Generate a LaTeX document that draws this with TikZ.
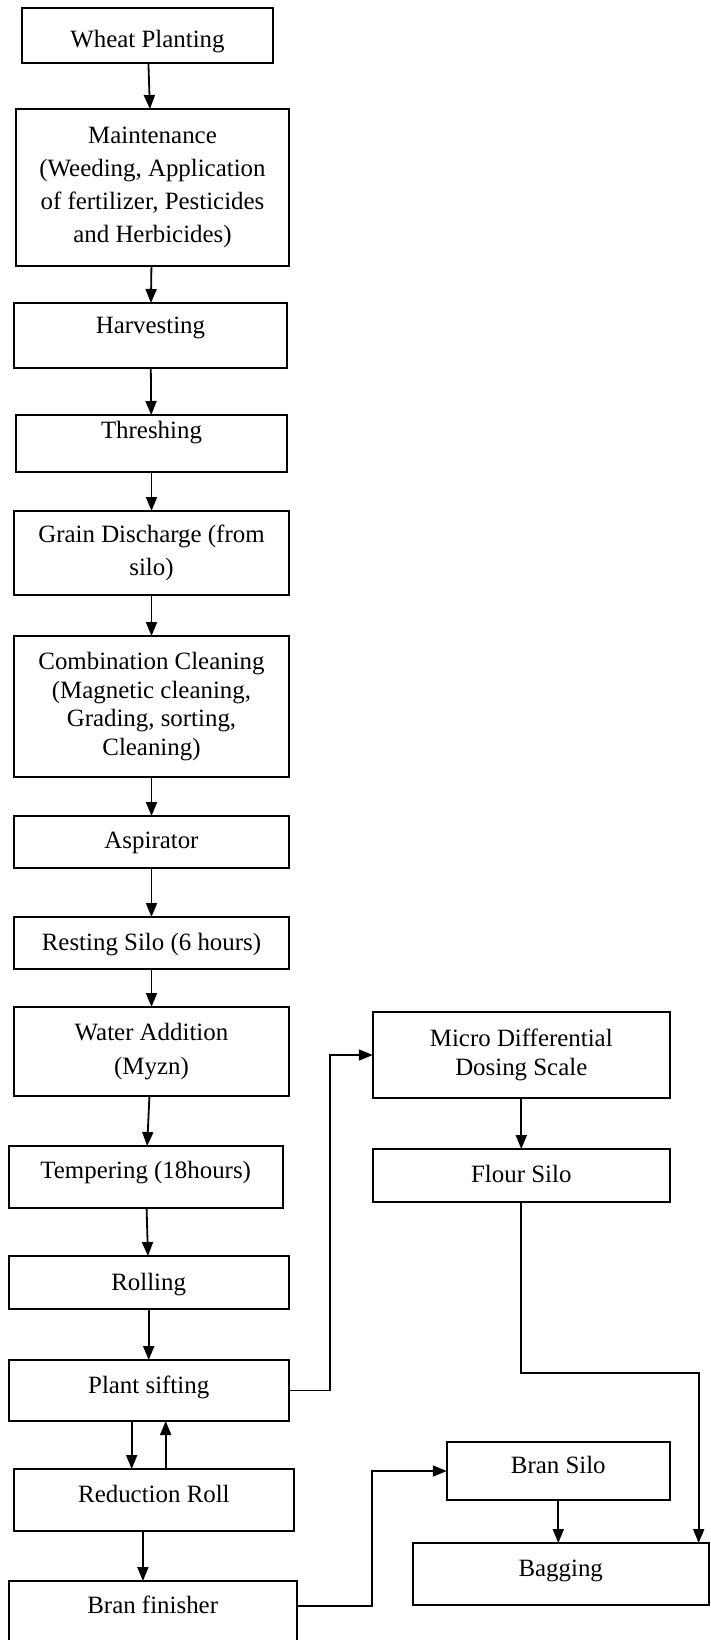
\documentclass[tikz,border=0pt]{standalone}
\usepackage{fontspec}
\setmainfont{Liberation Serif}
\usepackage{tikz}
\usetikzlibrary{positioning, arrows.meta}
\tikzset{
    box/.style={draw, rectangle, line width=1pt, align=center, inner sep=0pt, outer sep=0pt,
      minimum width=137.5pt, font=\fontsize{12.45}{16.5}\selectfont},
    oneline/.style 2 args={text height=#1, text depth=#2},
    flow/.style={-{Triangle[width=5.5pt, length=7pt]}, line width=0.9pt},
}
\begin{document}
\begin{tikzpicture}[x=0.5pt, y=-0.5pt]
    \path[use as bounding box, clip] (0,0) rectangle (711,1640);

    % main column
    \node[box, minimum width=125.5pt, oneline={19.5pt}{8pt}, anchor=north] (wheat) at (147.5,8) {Wheat Planting};
    \node[box, minimum width=136.5pt, minimum height=78.5pt, below=23pt of wheat, xshift=2.5pt] (maint)
      {Maintenance\\(Weeding, Application\\of fertilizer, Pesticides\\and Herbicides)};
    \node[box, minimum width=136.5pt, oneline={15pt}{17.5pt}, below=18.5pt of maint, xshift=-1pt] (harv) {Harvesting};
    \node[box, minimum width=135.5pt, oneline={11.5pt}{17pt}, below=23.5pt of harv, xshift=0.5pt] (thresh) {Threshing};
    \node[box, minimum height=42pt, below=19.5pt of thresh] (grain) {Grain Discharge (from\\silo)};
    \node[box, minimum height=70.5pt, font=\fontsize{12.45}{14.3}\selectfont, below=20.5pt of grain] (clean)
      {Combination Cleaning\\(Magnetic cleaning,\\Grading, sorting,\\Cleaning)};
    \node[box, oneline={16pt}{10pt}, below=19.5pt of clean] (asp) {Aspirator};
    \node[box, oneline={16.5pt}{9.5pt}, below=24.5pt of asp] (rest) {Resting Silo (6 hours)};
    \node[box, minimum height=44.5pt, font=\fontsize{12.45}{17}\selectfont, below=19pt of rest] (water) {Water Addition\\(Myzn)};
    \node[box, minimum width=137pt, oneline={16pt}{15pt}, below=25pt of water, xshift=-2.9pt] (temper) {Tempering (18hours)};
    \node[box, minimum width=140pt, oneline={17pt}{9.5pt}, below=24pt of temper, xshift=1.5pt] (roll) {Rolling};
    \node[box, minimum width=140pt, oneline={16.5pt}{14pt}, below=25.5pt of roll] (sift) {Plant sifting};
    \node[box, minimum width=139.75pt, oneline={16.5pt}{14.5pt}, below=24pt of sift, xshift=2.6pt] (reduce) {Reduction Roll};
    \node[box, minimum width=144pt, oneline={16pt}{24pt}, below=25pt of reduce, xshift=-0.6pt] (finish) {Bran finisher};

    % right column
    \node[box, minimum width=148.5pt, minimum height=43pt, font=\fontsize{12.45}{14.2}\selectfont,
      right=41.9pt of water, yshift=-1.75pt] (dosing) {Micro Differential\\Dosing Scale};
    \node[box, minimum width=148.5pt, oneline={16.5pt}{10pt}, below=25.5pt of dosing] (flour) {Flour Silo};
    \node[box, minimum width=111.5pt, oneline={15.5pt}{13.5pt}, below=120pt of flour, xshift=18.5pt] (bran) {Bran Silo};
    \node[box, minimum width=148pt, oneline={16.5pt}{14.5pt}, below=21.5pt of bran, xshift=1.2pt] (bag) {Bagging};

    \draw (wheat) edge[flow] (maint);
    \draw (maint) edge[flow] (harv);
    \draw (harv) edge[flow] (thresh);
    \draw (thresh) edge[flow] (grain);
    \draw (grain) edge[flow] (clean);
    \draw (clean) edge[flow] (asp);
    \draw (asp) edge[flow] (rest);
    \draw (rest) edge[flow] (water);
    \draw (water) edge[flow] (temper);
    \draw (temper) edge[flow] (roll);
    \draw (roll) edge[flow] (sift);

    \draw ([xshift=-8.5pt]sift.south) edge[flow] ([xshift=-8.5pt]sift.south |- reduce.north);
    \draw ([xshift=8.5pt]sift.south |- reduce.north) edge[flow] ([xshift=8.5pt]sift.south);
    \draw ([xshift=-5.5pt]reduce.south) edge[flow] ([xshift=-5.5pt]reduce.south |- finish.north);

    \draw[flow] (sift.east) -- ++(20.5pt,0) |- (dosing.west);
    \draw (dosing) edge[flow] (flour);
    \draw[flow] (flour.south) -- ++(0,-85.5pt) -| ([xshift=-5pt]bag.north east);
    \draw[flow] ([yshift=-12.5pt]finish.north east) -- ++(37.5pt,0) |- (bran.west);
    \draw (bran) edge[flow] (bran |- bag.north);
\end{tikzpicture}
\end{document}
